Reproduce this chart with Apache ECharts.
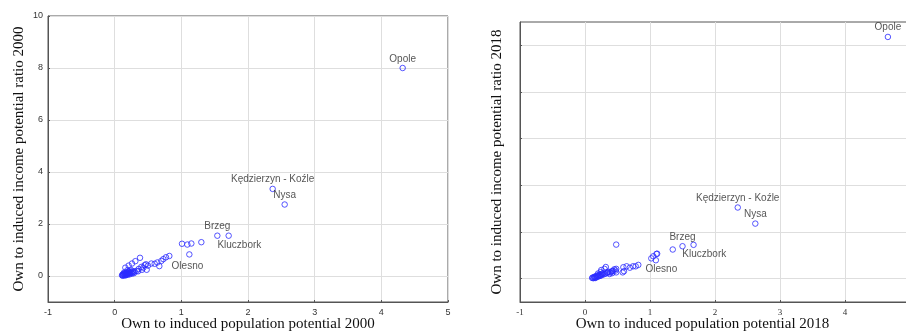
<!DOCTYPE html>
<html>
<head>
<meta charset="utf-8">
<script src="https://cdn.jsdelivr.net/npm/echarts@6/dist/echarts.min.js"></script>
<style>
  html, body { margin: 0; padding: 0; background: #fff; }
  #chart { width: 906px; height: 331px; }
</style>
</head>
<body>
<div id="chart"></div>
<script>
// powiaty with labels, same order in both years
const namedPowiats = ['Opole', 'Kędzierzyn - Koźle', 'Nysa', 'Brzeg', 'Kluczbork', 'Olesno']
const named2000 = [[4.32, 8.0], [2.37, 3.35], [2.55, 2.75], [1.54, 1.55], [1.71, 1.55], [0.67, 0.38]]
const named2018 = [[4.66, 10.36], [2.35, 3.05], [2.62, 2.36], [1.50, 1.39], [1.67, 1.45], [0.82, 0.59]]

// remaining gminy (no labels)
const other2000 = [
  [1.01, 1.24], [1.09, 1.21], [1.15, 1.25], [1.30, 1.30], [1.12, 0.83],
  [0.82, 0.77], [0.77, 0.72], [0.73, 0.65], [0.70, 0.58], [0.64, 0.52], [0.60, 0.47],
  [0.55, 0.48], [0.50, 0.40], [0.47, 0.45], [0.45, 0.42], [0.48, 0.24], [0.43, 0.32],
  [0.41, 0.24], [0.40, 0.35], [0.36, 0.27], [0.38, 0.70], [0.31, 0.57], [0.26, 0.48],
  [0.21, 0.40], [0.16, 0.32],
  [0.33, 0.20], [0.30, 0.17], [0.28, 0.15], [0.27, 0.19], [0.25, 0.12], [0.24, 0.16],
  [0.23, 0.10], [0.22, 0.14], [0.21, 0.18], [0.20, 0.08], [0.20, 0.12], [0.19, 0.22],
  [0.19, 0.05], [0.18, 0.10], [0.18, 0.15], [0.17, 0.07], [0.17, 0.03], [0.16, 0.12],
  [0.16, 0.05], [0.15, 0.09], [0.15, 0.02], [0.14, 0.06], [0.14, 0.13], [0.13, 0.03],
  [0.13, 0.08], [0.12, 0.05], [0.12, 0.01], [0.11, 0.03], [0.24, 0.24], [0.22, 0.06],
  [0.26, 0.09], [0.29, 0.11], [0.35, 0.18]
]
const other2018 = [
  [1.35, 1.25], [0.48, 1.46], [1.11, 1.07], [1.10, 1.06], [1.02, 0.87], [1.09, 0.79],
  [1.05, 0.96], [0.78, 0.53], [0.74, 0.53], [0.69, 0.47], [0.64, 0.53], [0.59, 0.49],
  [0.60, 0.32], [0.58, 0.27], [0.32, 0.50], [0.48, 0.42], [0.48, 0.27], [0.42, 0.32],
  [0.35, 0.27], [0.25, 0.37],
  [0.45, 0.40], [0.47, 0.35], [0.43, 0.34], [0.41, 0.30], [0.38, 0.27], [0.36, 0.30],
  [0.34, 0.25], [0.32, 0.22], [0.30, 0.42], [0.30, 0.20], [0.28, 0.24], [0.27, 0.17],
  [0.26, 0.21], [0.25, 0.14], [0.24, 0.18], [0.23, 0.12], [0.22, 0.16], [0.21, 0.10],
  [0.20, 0.14], [0.19, 0.08], [0.18, 0.12], [0.17, 0.06], [0.16, 0.10], [0.15, 0.04],
  [0.14, 0.07], [0.13, 0.02], [0.12, 0.05], [0.11, 0.03], [0.20, 0.22], [0.24, 0.28],
  [0.16, 0.03], [0.38, 0.20], [0.42, 0.24]
]

const yTicks = [0, 2, 4, 6, 8, 10]

const pointColor = '#2b2bff'
const axisColor = '#555'
const gridColor = '#dedede'

// label placement per name (Statistica style: above, some bottom/right)
function labelFor(name, year) {
  const base = { show: true, formatter: '{b}', fontFamily: 'Liberation Sans', fontSize: 10, color: '#2a2a2a', distance: 1 }
  if (name === 'Kluczbork') return Object.assign(base, { position: [-8, 8], align: 'left', verticalAlign: 'top' })
  if (name === 'Olesno') return Object.assign(base, { position: 'right', distance: year === 2000 ? 9 : 4, offset: [0, year === 2000 ? 0 : 4] })
  return Object.assign(base, { position: 'top' })
}

function buildData(named, other, year) {
  const marks = other.map(p => ({ value: p }))
  named.forEach((p, i) => {
    marks.push({ value: p, name: namedPowiats[i], label: labelFor(namedPowiats[i], year) })
  })
  return marks
}

function xAxisFor(gridIndex, name, labelFont, padding) {
  return {
    type: 'value',
    gridIndex,
    min: -1,
    max: 5,
    interval: 1,
    name,
    nameLocation: 'middle',
    nameGap: 15,
    nameMoveOverlap: false,
    nameTextStyle: { fontFamily: 'Liberation Serif', fontSize: 15, color: '#111', padding },
    axisLine: { show: true, onZero: false, lineStyle: { color: axisColor, width: 1 } },
    axisTick: { show: true, inside: true, length: 2, lineStyle: { color: axisColor } },
    axisLabel: { fontFamily: labelFont, fontSize: 9, color: '#333', margin: 6 },
    splitLine: { show: true, lineStyle: { color: gridColor, width: 1 } }
  }
}

function yAxisFor(gridIndex, name, max, showLabels, nameGap) {
  return {
    type: 'value',
    gridIndex,
    min: -1,
    max,
    name,
    nameLocation: 'middle',
    nameGap,
    nameMoveOverlap: false,
    nameTextStyle: { fontFamily: 'Liberation Serif', fontSize: 15, color: '#111' },
    axisLine: { show: true, onZero: false, lineStyle: { color: axisColor, width: 1 } },
    axisTick: { show: true, inside: true, length: 2, customValues: yTicks, lineStyle: { color: axisColor } },
    axisLabel: { show: showLabels, customValues: yTicks, fontFamily: 'Liberation Sans', fontSize: 9, color: '#333', margin: 5 },
    splitLine: { show: true, lineStyle: { color: gridColor, width: 1 } }
  }
}

function scatterFor(index, data) {
  return {
    type: 'scatter',
    xAxisIndex: index,
    yAxisIndex: index,
    symbol: 'circle',
    symbolSize: 5.5,
    itemStyle: { color: 'rgba(0,0,0,0)', borderColor: pointColor, borderWidth: 1 },
    data,
    animation: false
  }
}

const chart = echarts.init(document.getElementById('chart'))
chart.setOption({
  backgroundColor: '#fff',
  grid: [
    { left: 48, top: 16, width: 400, height: 286, show: true, borderColor: axisColor, borderWidth: 1, containLabel: false, outerBoundsMode: 'none' },
    { left: 520, top: 22, width: 390, height: 280, show: true, borderColor: axisColor, borderWidth: 1, containLabel: false, outerBoundsMode: 'none' }
  ],
  xAxis: [
    xAxisFor(0, 'Own to induced population potential 2000', 'Liberation Sans', [0, 0, 0, 0]),
    xAxisFor(1, 'Own to induced population potential 2018', 'Liberation Serif', [0, 25, 0, 0])
  ],
  yAxis: [
    yAxisFor(0, 'Own to induced income potential ratio 2000', 10, true, 21),
    yAxisFor(1, 'Own to induced income potential ratio 2018', 11, false, 15)
  ],
  series: [
    scatterFor(0, buildData(named2000, other2000, 2000)),
    scatterFor(1, buildData(named2018, other2018, 2018))
  ]
})
</script>
</body>
</html>
